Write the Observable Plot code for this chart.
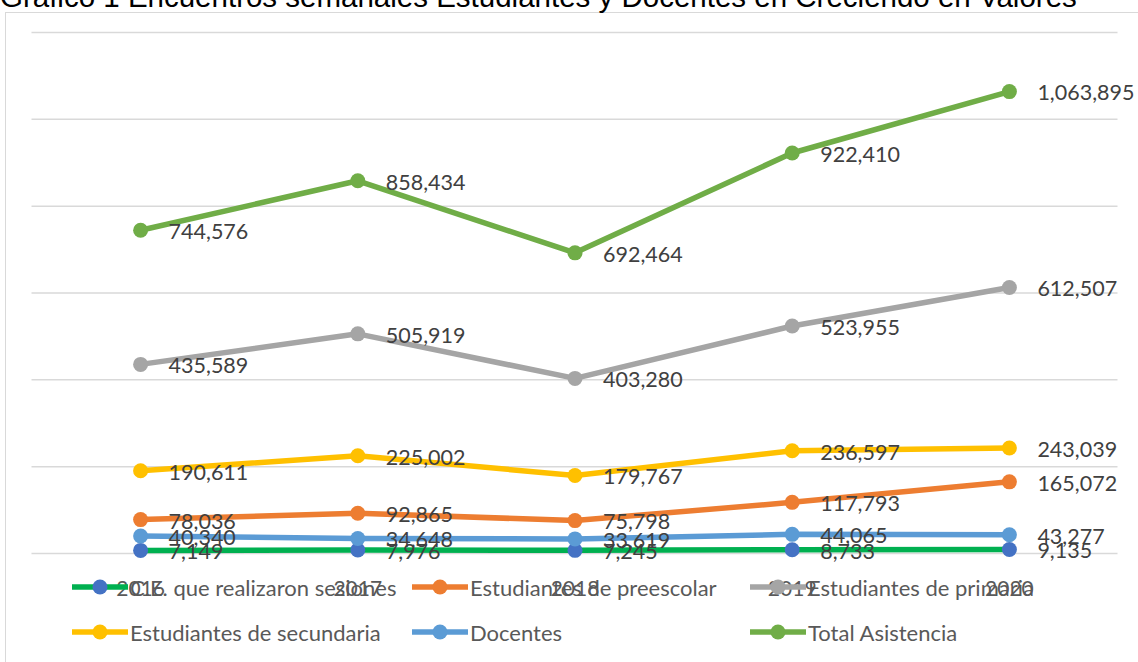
<!DOCTYPE html>
<html>
<head>
<meta charset="utf-8">
<script src="https://cdn.jsdelivr.net/npm/d3@7"></script>
<script src="https://cdn.jsdelivr.net/npm/@observablehq/plot@0.6"></script>
<style>
  html, body { margin: 0; padding: 0; background: #fff; overflow: hidden; }
  #wrap { position: relative; width: 1138px; height: 662px; overflow: hidden; }
  #border { position: absolute; left: 5px; top: 12px; width: 1200px; height: 700px;
            border-left: 1.5px solid #D9D9D9; border-top: 1.5px solid #D9D9D9; box-sizing: border-box; }
  #title { position: absolute; left: 0px; top: -20px; font-family: "Liberation Sans", Arial, sans-serif;
           font-size: 29.5px; color: #000; white-space: nowrap; z-index: 3; }
  #chart { position: absolute; left: 0; top: 0; z-index: 1; }
  #legend { position: absolute; left: 0; top: 0; width: 1138px; height: 662px; z-index: 2; pointer-events: none;
            font-family: Lato, "Open Sans", sans-serif; font-size: 22px; color: #595959; }
  .item { position: absolute; display: flex; align-items: center; height: 30px; white-space: nowrap; }
  .item svg { margin-right: 2px; }
</style>
</head>
<body>
<div id="wrap">
  <div id="border"></div>
  <div id="title"></div>
  <div id="chart"></div>
  <div id="legend"></div>
</div>
<script>
const titleText = "Grafico 1 Encuentros semanales Estudiantes y Docentes en Creciendo en Valores";
const years = [2016, 2017, 2018, 2019, 2020];
const yTicks = [0, 200000, 400000, 600000, 800000, 1000000, 1200000];

const seriesNames = [
  "C.E. que realizaron sesiones",
  "Estudiantes de preescolar",
  "Estudiantes de primaria",
  "Estudiantes de secundaria",
  "Docentes",
  "Total Asistencia"
];
const ceValues = [7149, 7976, 7245, 8733, 9135];
const preescolarValues = [78036, 92865, 75798, 117793, 165072];
const primariaValues = [435589, 505919, 403280, 523955, 612507];
const secundariaValues = [190611, 225002, 179767, 236597, 243039];
const docentesValues = [40340, 34648, 33619, 44065, 43277];
const totalValues = [744576, 858434, 692464, 922410, 1063895];

const lineColors = ["#00B050", "#ED7D31", "#A5A5A5", "#FFC000", "#5B9BD5", "#70AD47"];
const markerColors = ["#4472C4", "#ED7D31", "#A5A5A5", "#FFC000", "#5B9BD5", "#70AD47"];

const allValues = [ceValues, preescolarValues, primariaValues, secundariaValues, docentesValues, totalValues];
const series = seriesNames.map((name, i) => ({
  name, line: lineColors[i], marker: markerColors[i],
  data: years.map((year, j) => ({year, value: allValues[i][j]}))
}));

const fmt = d3.format(",");
const font = "Lato, 'Open Sans', sans-serif";

document.getElementById("title").textContent = titleText;

const marks = [
  Plot.ruleY(yTicks, {stroke: "#D9D9D9", strokeWidth: 1.5})
];
for (const s of series) {
  marks.push(Plot.lineY(s.data, {x: "year", y: "value", stroke: s.line, strokeWidth: 5.5, strokeLinejoin: "round"}));
  marks.push(Plot.dot(s.data, {x: "year", y: "value", r: 7.5, fill: s.marker, stroke: "none"}));
}
for (const s of series) {
  marks.push(Plot.text(s.data, {x: "year", y: "value", text: d => fmt(d.value), dx: 28, dy: 2,
    textAnchor: "start", fontSize: 21.5, fill: "#404040", fontFamily: font}));
}
marks.push(Plot.text(years, {x: d => d, frameAnchor: "bottom", dy: 42, text: d => String(d),
  fontSize: 21, fill: "#595959", fontFamily: font}));

const chart = Plot.plot({
  width: 1138,
  height: 662,
  marginLeft: 31.5,
  marginRight: 20.5,
  marginTop: 32,
  marginBottom: 109,
  x: {type: "linear", domain: [2015.5, 2020.5], axis: null},
  y: {domain: [0, 1200000], axis: null},
  style: {background: "transparent", fontFamily: font},
  marks
});
document.getElementById("chart").appendChild(chart);

// Legend
const legendPos = [
  [72, 587], [412, 587], [750, 587],
  [72, 632], [412, 632], [750, 632]
];
const legend = document.getElementById("legend");
series.forEach((s, k) => {
  const [lx, ly] = legendPos[k];
  const div = document.createElement("div");
  div.className = "item";
  div.style.left = lx + "px";
  div.style.top = (ly - 15) + "px";
  div.innerHTML = `<svg width="56" height="30"><line x1="1" x2="55" y1="15" y2="15" stroke="${s.line}" stroke-width="5.5" stroke-linecap="round"/><circle cx="28" cy="15" r="7.5" fill="${s.marker}"/></svg><span>${s.name}</span>`;
  legend.appendChild(div);
});
</script>
</body>
</html>
